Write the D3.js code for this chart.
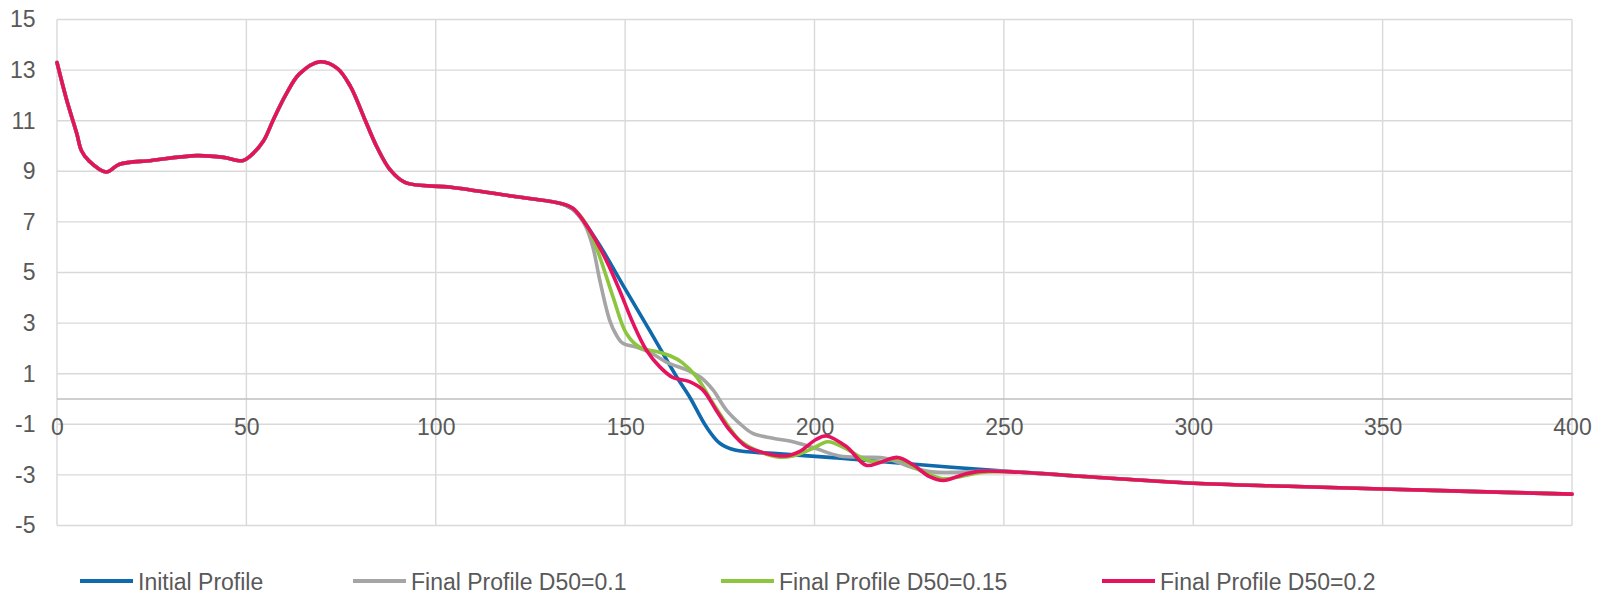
<!DOCTYPE html>
<html>
<head>
<meta charset="utf-8">
<script src="https://cdn.jsdelivr.net/npm/d3@7"></script>
<style>
  html, body { margin: 0; padding: 0; background: #ffffff; }
  svg { display: block; }
  text { font-family: "Liberation Sans", Arial, sans-serif; fill: #595959; }
</style>
</head>
<body>
<svg id="chart" width="1606" height="593"></svg>
<script>
// ---- data ----
const xTicks = [0, 50, 100, 150, 200, 250, 300, 350, 400];
const yTicks = [-5, -3, -1, 1, 3, 5, 7, 9, 11, 13, 15];

// shared upland part (all profiles identical)
const commonX = [0, 2.5, 5.2, 6.5, 8.5, 13, 16.5, 25, 37, 44, 49, 51, 54.5, 57, 60.5, 64, 69.5, 74, 77.5, 81, 84.5, 88, 92, 104, 120, 133];
const commonY = [13.3, 11.85, 10.5, 9.8, 9.4, 8.97, 9.28, 9.43, 9.62, 9.55, 9.42, 9.6, 10.2, 11.0, 12.05, 12.85, 13.33, 13.07, 12.35, 11.15, 9.95, 9.05, 8.55, 8.37, 8.02, 7.73];

// shared offshore tail
const tailX = [275, 300, 325, 350, 375, 400];
const tailY = [-3.1, -3.33, -3.45, -3.56, -3.66, -3.76];

// Initial Profile (nearshore part)
const initialX = [136, 139, 141, 144, 150, 156.5, 163.5, 167, 171.4, 175, 179, 189, 206, 228, 250];
const initialY = [7.52, 7.05, 6.6, 5.9, 4.35, 2.7, 0.9, 0.09, -1.09, -1.75, -2.02, -2.15, -2.33, -2.6, -2.85];

// Final Profile D50=0.1
const d01X = [135.5, 137.5, 139.5, 141.5, 143.3, 145.9, 147.6, 149.4, 153, 157, 161, 167, 170, 173.2, 176.7, 180.2, 183.7, 189, 194.3, 199.6, 206.6, 213.6, 219, 226, 231, 237, 243.5, 250];
const d01Y = [7.58, 7.3, 6.85, 6.0, 4.7, 3.12, 2.55, 2.2, 2.05, 1.8, 1.45, 1.1, 0.85, 0.36, -0.43, -0.96, -1.36, -1.55, -1.69, -1.92, -2.25, -2.3, -2.35, -2.72, -2.88, -2.9, -2.86, -2.86];

// Final Profile D50=0.15
const d015X = [136.2, 139, 141, 143.3, 146.8, 150.3, 153.8, 159, 162, 165, 168.8, 173.2, 176.7, 180.2, 184.6, 190.8, 194.3, 199.6, 203.5, 208.4, 213.6, 217, 222.4, 227.7, 233.9, 239, 244, 250];
const d015Y = [7.54, 7.07, 6.5, 5.62, 4.04, 2.6, 2.05, 1.85, 1.7, 1.45, 0.88, -0.17, -0.96, -1.62, -2.02, -2.3, -2.25, -1.95, -1.69, -1.97, -2.41, -2.48, -2.38, -2.81, -3.15, -3.05, -2.9, -2.87];

// Final Profile D50=0.2
const d02X = [136.2, 140.6, 145, 148.5, 152.1, 155.6, 159.1, 162.6, 167, 170.5, 174, 177.6, 182, 187.3, 192.5, 196, 200.4, 203.1, 208.4, 213.6, 217.1, 222, 226, 230.4, 234, 239, 243.5, 252];
const d02Y = [7.54, 6.68, 5.49, 4.31, 2.99, 1.94, 1.28, 0.85, 0.69, 0.36, -0.43, -1.23, -1.88, -2.15, -2.25, -2.08, -1.6, -1.46, -1.88, -2.62, -2.52, -2.31, -2.6, -3.07, -3.22, -3.0, -2.86, -2.88];

const seriesNames = ["Initial Profile", "Final Profile D50=0.1", "Final Profile D50=0.15", "Final Profile D50=0.2"];
const seriesColors = ["#0F69AD", "#A5A5A5", "#8CC63F", "#E5135F"];

// ---- build series ----
function build(xs, ys) {
  const allX = commonX.concat(xs, tailX);
  const allY = commonY.concat(ys, tailY);
  return allX.map((x, i) => ({ x: x, y: allY[i] }));
}
const series = [
  build(initialX, initialY),
  build(d01X, d01Y),
  build(d015X, d015Y),
  build(d02X, d02Y)
];

// ---- layout ----
const svg = d3.select("#chart");
const x = d3.scaleLinear().domain([0, 400]).range([57, 1572]);
const y = d3.scaleLinear().domain([-5, 15]).range([525.5, 19.5]);

// gridlines
const grid = svg.append("g");
grid.selectAll("line.h").data(yTicks).enter().append("line")
  .attr("x1", x(0)).attr("x2", x(400))
  .attr("y1", d => y(d)).attr("y2", d => y(d))
  .attr("stroke", "#d9d9d9").attr("stroke-width", 1.4);
grid.selectAll("line.v").data(xTicks).enter().append("line")
  .attr("x1", d => x(d)).attr("x2", d => x(d))
  .attr("y1", y(15)).attr("y2", y(-5))
  .attr("stroke", "#d9d9d9").attr("stroke-width", 1.4);

// zero axis line
svg.append("line")
  .attr("x1", x(0)).attr("x2", x(400))
  .attr("y1", y(0)).attr("y2", y(0))
  .attr("stroke", "#bfbfbf").attr("stroke-width", 1.4);

// y axis labels
const yAxis = d3.axisLeft(y).tickValues(yTicks).tickSize(0).tickPadding(0).tickFormat(d => String(d));
const yg = svg.append("g").attr("transform", `translate(${x(0) - 21.5},0)`).call(yAxis);
yg.select(".domain").remove();
yg.selectAll("text").attr("font-size", 23).attr("fill", "#595959")
  .style("font-family", "'Liberation Sans', Arial, sans-serif");

// x axis labels (sitting on the zero line)
const xAxis = d3.axisBottom(x).tickValues(xTicks).tickSize(0).tickPadding(0).tickFormat(d => String(d));
const xg = svg.append("g").attr("transform", `translate(0,${y(0)})`).call(xAxis);
xg.select(".domain").remove();
xg.selectAll("text").attr("font-size", 23).attr("fill", "#595959").attr("dy", null).attr("y", 36)
  .style("font-family", "'Liberation Sans', Arial, sans-serif");

// lines
const line = d3.line().x(d => x(d.x)).y(d => y(d.y)).curve(d3.curveCatmullRom.alpha(0.5));
svg.append("g").selectAll("path").data(series).enter().append("path")
  .attr("d", line)
  .attr("fill", "none")
  .attr("stroke", (d, i) => seriesColors[i])
  .attr("stroke-width", 3.6)
  .attr("stroke-linejoin", "round")
  .attr("stroke-linecap", "round");

// legend
const legendLineX = [80, 353, 721, 1102];
const lg = svg.append("g");
seriesNames.forEach((name, i) => {
  lg.append("line")
    .attr("x1", legendLineX[i]).attr("x2", legendLineX[i] + 53)
    .attr("y1", 581).attr("y2", 581)
    .attr("stroke", seriesColors[i]).attr("stroke-width", 4);
  lg.append("text")
    .attr("x", legendLineX[i] + 58).attr("y", 589.5)
    .attr("font-size", 23)
    .text(name);
});
</script>
</body>
</html>
